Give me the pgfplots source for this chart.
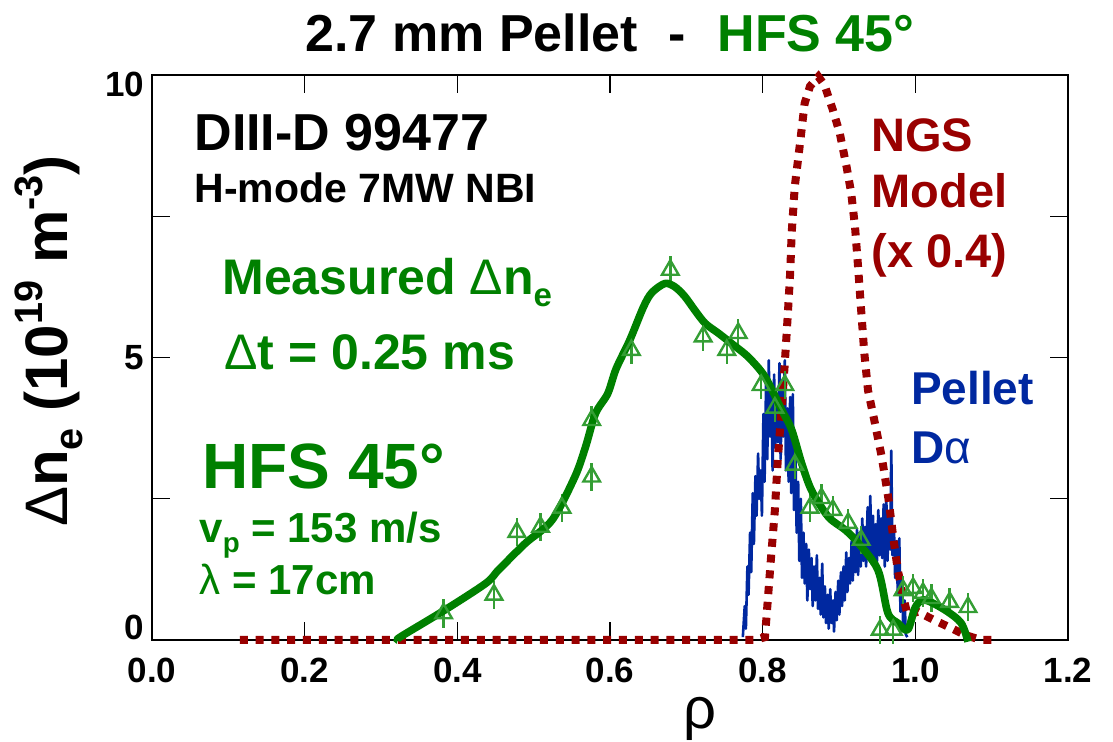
\documentclass[border=0pt]{standalone}
\usepackage{pgfplots}
\pgfplotsset{compat=1.18}
\usepackage{fontspec}
\setmainfont{Liberation Sans}

\definecolor{meas}{RGB}{0,128,0}
\definecolor{measmk}{RGB}{52,158,52}
\definecolor{ngs}{RGB}{153,0,0}
\definecolor{dalpha}{RGB}{0,40,160}

\newcommand\fs[1]{\fontsize{#1}{#1}\selectfont\bfseries}
\makeatletter
\newcommand\lowr[1]{\raisebox{-0.24em}{\fontsize{\fpeval{0.66*\f@size}}{\fpeval{0.66*\f@size}}\selectfont #1}}
\newcommand\upr[1]{\raisebox{0.42em}{\fontsize{\fpeval{0.66*\f@size}}{\fpeval{0.66*\f@size}}\selectfont #1}}
\makeatother

% Pellet D-alpha emission trace
\pgfplotstableread{
x y
0.7740 0.05
0.7765 0.60
0.7780 0.20
0.7800 1.30
0.7815 0.80
0.7835 1.90
0.7850 1.20
0.7870 2.60
0.7885 1.70
0.7905 2.90
0.7920 2.20
0.7940 3.30
0.7955 2.50
0.7975 3.00
0.7990 2.20
0.8010 4.00
0.8025 2.80
0.8045 4.60
0.8060 3.20
0.8080 4.95
0.8095 3.60
0.8115 4.40
0.8130 3.00
0.8150 4.70
0.8165 3.40
0.8185 4.20
0.8200 3.50
0.8220 4.90
0.8235 3.20
0.8255 4.60
0.8270 3.60
0.8290 4.95
0.8305 3.00
0.8325 4.10
0.8340 2.80
0.8360 4.30
0.8375 2.60
0.8395 4.35
0.8410 2.30
0.8430 3.30
0.8445 1.90
0.8465 2.80
0.8480 1.40
0.8500 2.50
0.8515 1.10
0.8535 1.90
0.8550 1.00
0.8570 1.70
0.8585 0.70
0.8605 1.60
0.8620 0.90
0.8640 1.45
0.8655 0.60
0.8675 1.30
0.8690 0.70
0.8710 1.50
0.8725 0.55
0.8745 1.10
0.8760 0.45
0.8780 1.35
0.8795 0.40
0.8815 0.95
0.8830 0.30
0.8850 0.80
0.8865 0.20
0.8885 0.90
0.8900 0.30
0.8920 0.70
0.8935 0.15
0.8955 0.85
0.8970 0.35
0.8990 1.05
0.9005 0.45
0.9025 1.20
0.9040 0.60
0.9060 1.30
0.9075 0.70
0.9095 1.55
0.9110 0.85
0.9130 1.45
0.9145 1.00
0.9165 1.75
0.9180 1.05
0.9200 1.70
0.9215 1.20
0.9235 1.95
0.9250 1.15
0.9270 1.90
0.9285 1.30
0.9305 2.15
0.9320 1.40
0.9340 2.00
0.9355 1.30
0.9375 2.35
0.9390 1.50
0.9410 2.55
0.9425 1.35
0.9445 2.20
0.9460 1.40
0.9480 2.05
0.9495 1.30
0.9515 2.30
0.9530 1.50
0.9550 2.15
0.9565 1.45
0.9585 2.40
0.9600 1.30
0.9620 2.50
0.9635 1.40
0.9655 2.20
0.9670 1.60
0.9685 3.35
0.9700 1.50
0.9720 2.00
0.9735 1.10
0.9755 1.75
0.9770 0.80
0.9790 1.80
0.9805 0.50
0.9825 1.10
0.9840 0.25
0.9860 0.70
0.9875 0.10
0.9895 0.05
}\dalphatab

% NGS ablation model, scaled by 0.4
\pgfplotstableread{
x y
0.115 0
0.790 0
0.803 0.05
0.807 0.76
0.811 1.47
0.816 2.30
0.820 3.24
0.825 4.12
0.829 4.90
0.833 5.78
0.836 6.49
0.838 7.20
0.842 8.02
0.849 8.80
0.855 9.50
0.862 9.80
0.873 9.97
0.881 9.82
0.892 9.38
0.901 8.97
0.910 8.37
0.916 7.91
0.921 7.31
0.925 6.60
0.929 5.84
0.933 5.10
0.938 4.42
0.947 3.84
0.956 3.24
0.965 2.48
0.971 1.82
0.977 1.24
0.984 0.76
0.990 0.44
1.003 0.50
1.025 0.35
1.047 0.21
1.065 0.09
1.086 0
1.108 0
}\ngstab

% Measured density rise, smoothed fit
\pgfplotstableread{
x y
0.322 0
0.326 0.06
0.380 0.50
0.437 1.00
0.454 1.24
0.489 1.71
0.524 2.12
0.554 2.89
0.568 3.42
0.581 4.01
0.597 4.36
0.608 4.80
0.626 5.31
0.644 5.90
0.655 6.15
0.672 6.31
0.685 6.25
0.698 6.08
0.712 5.82
0.725 5.60
0.742 5.43
0.759 5.25
0.781 5.01
0.803 4.66
0.825 4.07
0.838 3.72
0.851 3.13
0.864 2.65
0.886 2.18
0.908 1.95
0.925 1.72
0.951 1.24
0.964 0.48
0.977 0.30
0.990 0.18
1.000 0.58
1.012 0.71
1.039 0.53
1.060 0.30
1.069 -0.03
}\fittab

% Measured density rise, individual channels
\pgfplotstableread{
x y
0.382 0.47
0.448 0.80
0.478 1.91
0.509 2.00
0.537 2.34
0.576 2.89
0.576 3.89
0.628 5.13
0.679 6.55
0.722 5.37
0.753 5.13
0.768 5.43
0.798 4.51
0.829 4.51
0.816 4.11
0.842 3.10
0.862 2.34
0.877 2.51
0.892 2.30
0.912 2.07
0.929 1.77
0.954 0.18
0.971 0.18
0.984 0.88
0.997 0.92
1.010 0.83
1.021 0.74
1.045 0.67
1.069 0.58
}\meastab

\begin{document}
\begin{tikzpicture}
\useasboundingbox (0pt,0pt) rectangle (556.5pt,371pt);
\begin{axis}[
  at={(76pt,51pt)}, anchor=south west,
  scale only axis, width=458pt, height=282.5pt,
  xmin=0, xmax=1.2, ymin=0, ymax=10,
  clip=false,
  xtick={0,0.2,0.4,0.6,0.8,1.0,1.2},
  xticklabels={0.0,0.2,0.4,0.6,0.8,1.0,1.2},
  ytick={0,2.5,5,7.5,10},
  yticklabels={\raisebox{0.358em}[\height][\depth]{0},,5,,\raisebox{-4.5pt}[\height][\depth]{10}},
  tick align=inside, xtick pos=both, ytick pos=both,
  xticklabel pos=bottom, yticklabel pos=left,
  major tick length=9pt,
  tick style={line width=0.7pt, black},
  axis line style={line width=1.2pt},
  ticklabel style={font=\fs{17.5}},
  xticklabel style={yshift=-5.5pt},
  yticklabel style={xshift=-0.5pt},
  xlabel={\fontsize{29}{29}\selectfont\mdseries ρ},
  xlabel style={at={(axis description cs:0.598,-0.156)}, anchor=base},
  ylabel={\fs{30}{\mdseries Δ}n\lowr{e} (10\upr{19} m\upr{-3})},
  ylabel style={at={(axis description cs:-0.0917,0.529)}, anchor=base},
]
\addplot[dalpha, line width=1.3pt, line join=round] table[x=x,y=y] {\dalphatab};
\addplot[ngs, line width=4pt, dash pattern=on 4pt off 3.9pt] table[x=x,y=y] {\ngstab};
\addplot[measmk, only marks, mark=triangle, mark size=4.8pt,
  mark options={line width=1.2pt},
  error bars/.cd, y dir=both, y fixed=0.25, error mark=none,
  error bar style={line width=1.2pt}] table[x=x,y=y] {\meastab};
\addplot[meas, line width=3.8pt, smooth, tension=0.5, line join=round] table[x=x,y=y] {\fittab};

% title
\node[anchor=base, inner sep=0, font=\fs{26}] at (axis cs:0.6,10.41)
  {2.7 mm Pellet\hspace{0.6em}-\hspace{0.6em}\textcolor{meas}{HFS 45°}};

% annotations
\node[anchor=base west, inner sep=0, font=\fs{26}] at (axis cs:0.0552,8.67) {DIII-D 99477};
\node[anchor=base west, inner sep=0, font=\fs{20.5}] at (axis cs:0.0552,7.75) {H-mode 7MW NBI};
\node[anchor=base west, inner sep=0, font=\fs{25}, text=meas] at (axis cs:0.0918,6.11) {Measured {\mdseries Δ}n\lowr{e}};
\node[anchor=base west, inner sep=0, font=\fs{25}, text=meas] at (axis cs:0.0944,4.78) {{\mdseries Δ}t = 0.25 ms};
\node[anchor=base west, inner sep=0, font=\fs{32}, text=meas] at (axis cs:0.0657,2.69) {HFS 45°};
\node[anchor=base west, inner sep=0, font=\fs{21}, text=meas] at (axis cs:0.0617,1.72) {v\lowr{p} = 153 m/s};
\node[anchor=base west, inner sep=0, font=\fs{21}, text=meas] at (axis cs:0.0617,0.80) {{\mdseries λ} = 17cm};

\node[anchor=base west, inner sep=0, font=\fs{23.5}, text=ngs] at (axis cs:0.942,8.64) {NGS};
\node[anchor=base west, inner sep=0, font=\fs{23.5}, text=ngs] at (axis cs:0.942,7.65) {Model};
\node[anchor=base west, inner sep=0, font=\fs{23.5}, text=ngs] at (axis cs:0.942,6.60) {(x 0.4)};

\node[anchor=base west, inner sep=0, font=\fs{23}, text=dalpha] at (axis cs:0.994,4.16) {Pellet};
\node[anchor=base west, inner sep=0, font=\fs{23}, text=dalpha] at (axis cs:0.994,3.13) {D{\mdseries α}};
\end{axis}
\end{tikzpicture}
\end{document}
